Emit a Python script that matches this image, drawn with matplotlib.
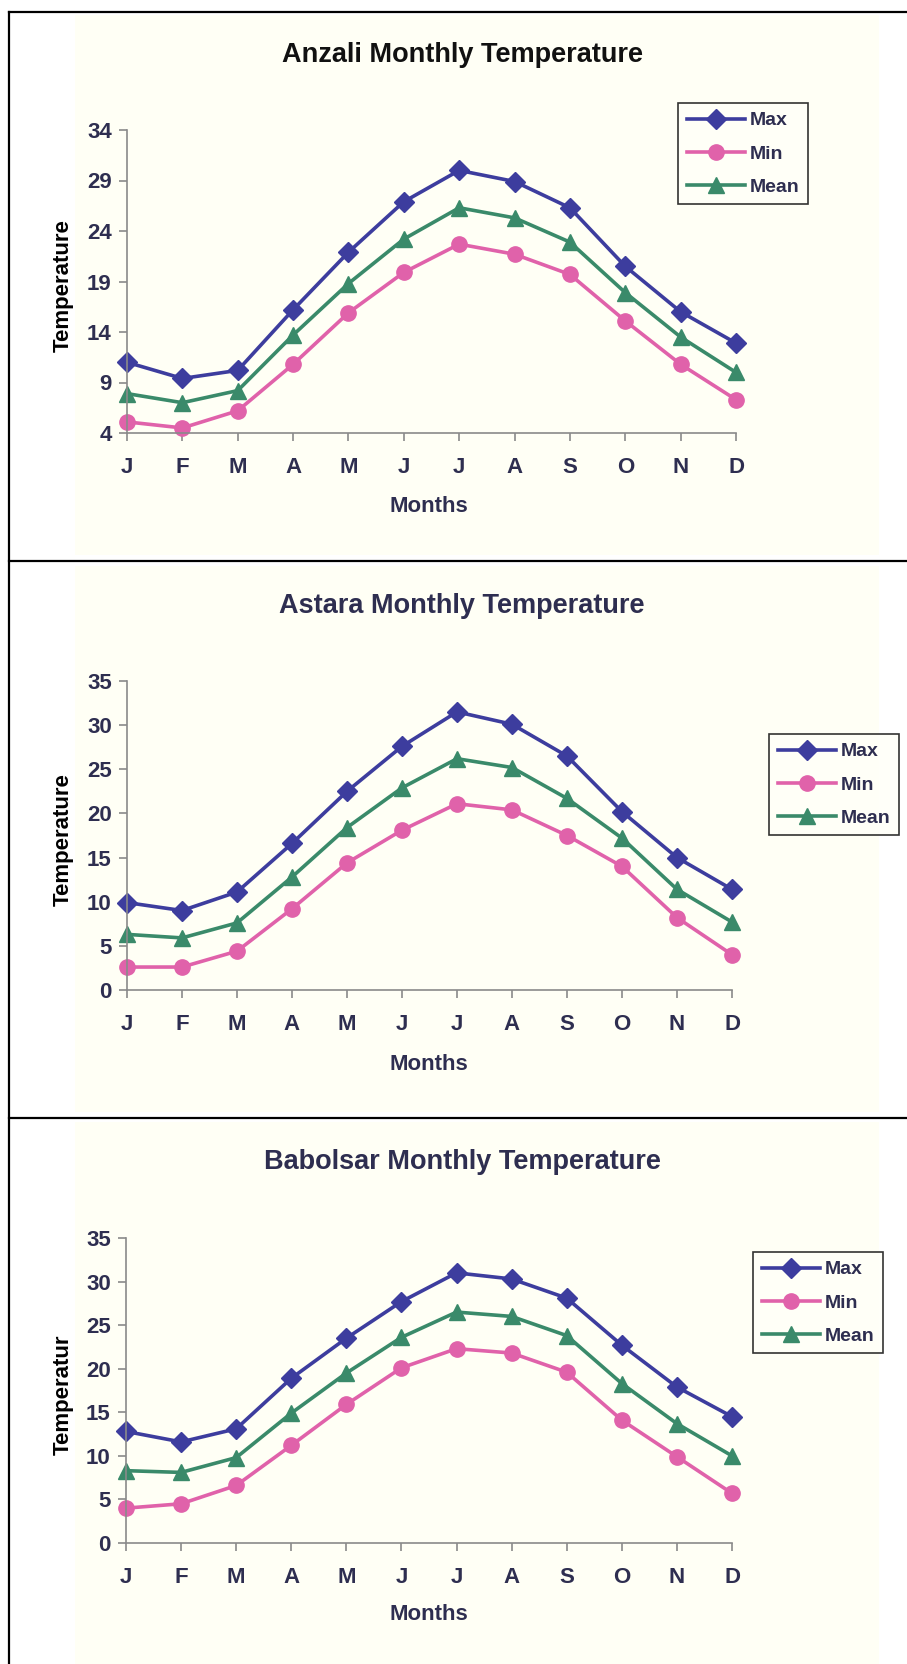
import matplotlib.pyplot as plt
from matplotlib.lines import Line2D

months = ['J', 'F', 'M', 'A', 'M', 'J', 'J', 'A', 'S', 'O', 'N', 'D']

anzali_max = [11.0, 9.4, 10.2, 16.2, 21.9, 26.9, 30.0, 28.9, 26.3, 20.5, 16.0, 12.9]
anzali_min = [5.1, 4.5, 6.2, 10.8, 15.9, 19.9, 22.7, 21.7, 19.7, 15.1, 10.8, 7.3]
anzali_mean = [7.9, 7.0, 8.2, 13.7, 18.8, 23.2, 26.3, 25.3, 22.9, 17.9, 13.5, 10.0]

astara_max = [9.9, 9.0, 11.1, 16.6, 22.5, 27.6, 31.5, 30.1, 26.5, 20.2, 15.0, 11.4]
astara_min = [2.6, 2.6, 4.4, 9.2, 14.4, 18.1, 21.1, 20.4, 17.5, 14.0, 8.2, 4.0]
astara_mean = [6.3, 5.9, 7.6, 12.8, 18.4, 22.9, 26.2, 25.2, 21.7, 17.2, 11.4, 7.7]

babolsar_max = [12.8, 11.6, 13.1, 18.9, 23.5, 27.7, 31.0, 30.3, 28.1, 22.7, 17.9, 14.5]
babolsar_min = [4.0, 4.5, 6.6, 11.2, 15.9, 20.1, 22.3, 21.8, 19.6, 14.1, 9.9, 5.7]
babolsar_mean = [8.3, 8.1, 9.8, 14.9, 19.5, 23.6, 26.5, 26.0, 23.8, 18.3, 13.7, 10.0]

max_color = '#3d3d9e'
min_color = '#e062aa'
mean_color = '#3a8a6a'
text_color = '#2e2e50'

font = ['Liberation Sans', 'DejaVu Sans']

W, H = 907, 1664
fig = plt.figure(figsize=(W / 100, H / 100), dpi=100)
fig.patch.set_facecolor('white')


def fx(px):
    return px / W


def fy(py):
    return 1 - py / H


def line_fig(x0, y0, x1, y1, color='black'):
    fig.add_artist(Line2D([fx(x0), fx(x1)], [fy(y0), fy(y1)],
                          color=color, lw=1.6, transform=fig.transFigure))


def panel(box, cream, title, title_y, vmax, vmin, vmean, ylim, yticks,
          ylabel, legend_at, title_color, months_y):
    left, top, right, bottom = box
    # cream chart area behind the plot
    fig.add_artist(plt.Rectangle((fx(75), fy(cream[1])), fx(879) - fx(75),
                                 fy(cream[0]) - fy(cream[1]),
                                 facecolor='#fffff5', edgecolor='none',
                                 transform=fig.transFigure, zorder=-5))
    ax = fig.add_axes([fx(left), fy(bottom), fx(right) - fx(left),
                       fy(top) - fy(bottom)])
    ax.patch.set_alpha(0)
    x = range(len(months))
    ax.plot(x, vmax, color=max_color, lw=2.6, marker='D', ms=10, label='Max',
            clip_on=False)
    ax.plot(x, vmin, color=min_color, lw=2.6, marker='o', ms=11, label='Min',
            clip_on=False)
    ax.plot(x, vmean, color=mean_color, lw=2.6, marker='^', ms=11,
            label='Mean', clip_on=False)
    ax.set_xlim(0, 11)
    ax.set_ylim(*ylim)
    ax.set_xticks(list(x))
    ax.set_xticklabels(months)
    ax.set_yticks(yticks)
    for s in ['top', 'right']:
        ax.spines[s].set_visible(False)
    for s in ['left', 'bottom']:
        ax.spines[s].set_color('#8a8a8a')
        ax.spines[s].set_linewidth(1.2)
    ax.tick_params(axis='both', colors='#8a8a8a', length=6, width=1.2,
                   labelcolor=text_color)
    ax.tick_params(axis='x', pad=11)
    ax.tick_params(axis='y', pad=5)
    for lab in ax.get_xticklabels() + ax.get_yticklabels():
        lab.set_family(font)
        lab.set_fontsize(16)
        lab.set_fontweight('bold')
    fig.text(fx(63), (fy(top) + fy(bottom)) / 2 - 4 / H, ylabel, family=font,
             fontsize=16, fontweight='bold', color='black', rotation=90,
             ha='center', va='center')
    fig.text(fx(429), fy(months_y), 'Months', family=font, fontsize=16,
             fontweight='bold', color=text_color, ha='center', va='center')
    fig.text(fx(462), fy(title_y), title, family=font, fontsize=19.5,
             fontweight='bold', color=title_color, ha='center', va='center')
    leg = ax.legend(loc='upper left',
                    bbox_to_anchor=(fx(legend_at[0]), fy(legend_at[1])),
                    bbox_transform=fig.transFigure, borderaxespad=0,
                    frameon=True, fancybox=False, handlelength=3.0,
                    handletextpad=0.25, labelspacing=0.8, borderpad=0.45,
                    prop={'family': font, 'size': 14, 'weight': 'bold'})
    leg.get_frame().set_edgecolor('black')
    leg.get_frame().set_linewidth(1.2)
    leg.get_frame().set_facecolor('#fffff8')
    for t in leg.get_texts():
        t.set_color(text_color)
    return ax


panel((127, 130, 736, 433), (15, 555),
      'Anzali Monthly Temperature', 55, anzali_max, anzali_min, anzali_mean,
      (4, 34), [4, 9, 14, 19, 24, 29, 34], 'Temperature',
      (678, 103), '#111111', 507)

panel((127, 681, 732, 990), (566, 1112),
      'Astara Monthly Temperature', 606, astara_max, astara_min, astara_mean,
      (0, 35), [0, 5, 10, 15, 20, 25, 30, 35], 'Temperature',
      (769, 734), text_color, 1064)

panel((126, 1238, 732, 1543), (1122, 1664),
      'Babolsar Monthly Temperature', 1162, babolsar_max, babolsar_min,
      babolsar_mean, (0, 35), [0, 5, 10, 15, 20, 25, 30, 35], 'Temperatur',
      (753, 1252), text_color, 1614)

# page frame around the three charts
line_fig(9, 12, 907, 12)
line_fig(9, 12, 9, 1664)
line_fig(9, 561, 907, 561)
line_fig(9, 1118, 907, 1118)

fig.savefig('out.png', dpi=100)
